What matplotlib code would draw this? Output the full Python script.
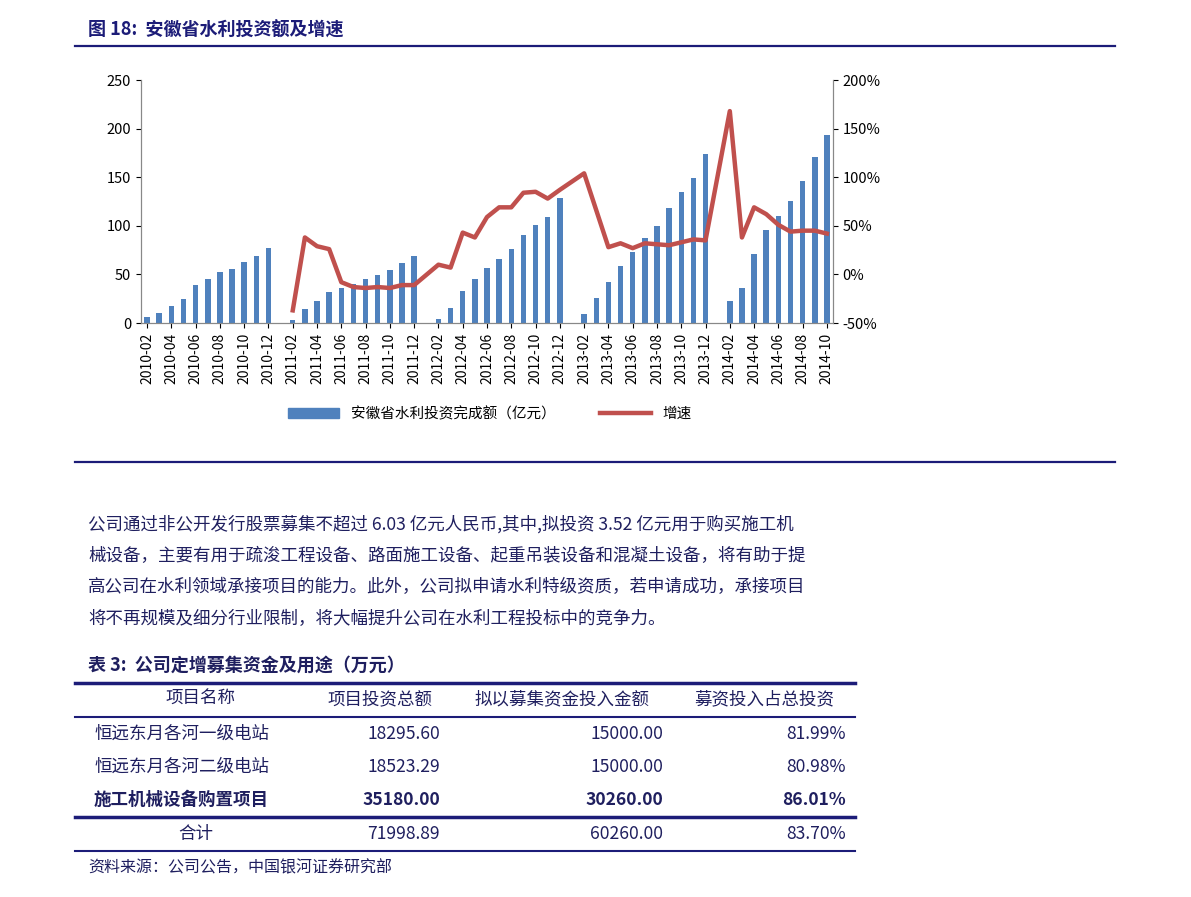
import numpy as np
import matplotlib
matplotlib.use("Agg")
import matplotlib.pyplot as plt
from matplotlib.lines import Line2D

plt.rcParams['font.family'] = ['Noto Sans CJK SC', 'DejaVu Sans']

months = []
for y, ms in [(2010, range(2, 13)), (2011, range(1, 13)), (2012, range(1, 13)),
              (2013, range(1, 13)), (2014, range(1, 11))]:
    for m in ms:
        months.append(f"{y}-{m:02d}")

nan = np.nan
invest = [6, 10, 18, 25, 39, 45, 52, 56, 63, 69, 77,
          nan, 3, 14, 23, 32, 36, 40, 45, 49, 55, 62, 69,
          nan, 4, 15, 33, 45, 57, 66, 76, 91, 101, 109, 129,
          nan, 9, 26, 42, 59, 73, 87, 100, 118, 135, 149, 174,
          nan, 23, 36, 71, 96, 110, 126, 146, 171, 193]
growth = [nan]*11 + [nan, -37, 38, 29, 26, -8, -13, -14, -13, -14, -11, -11,
          nan, 10, 7, 43, 38, 59, 69, 69, 84, 85, 78, 87,
          nan, 104, nan, 28, 32, 27, 32, 31, 30, 33, 36, 35,
          nan, 168, 38, 69, 62, 51, 44, 45, 45, 42]

navy = '#1c1c78'
txt = '#1f1f5f'
fig = plt.figure(figsize=(11.91, 8.97), dpi=100)
W, H = 1191, 897
def fx(x): return x / W
def fy(y): return 1 - y / H

ax = fig.add_axes([fx(141), fy(323), fx(692), 243 / H])
x = np.arange(len(months))
inv = np.array(invest, float)
ax.bar(x, np.nan_to_num(inv), width=0.45, color='#4f81bd', zorder=2)
ax.set_xlim(-0.5, len(months) - 0.5)
ax.set_ylim(0, 250)
ax.set_yticks(range(0, 251, 50))
ax.set_xticks(x[::2])
ax.set_xticklabels(months[::2], rotation=90, fontsize=10)
ax.tick_params(axis='y', labelsize=10.5)
ax2 = ax.twinx()
g = np.array(growth, float)
ok = ~np.isnan(g)
ax2.plot(x[ok], g[ok], color='#c0504d', lw=3.2, zorder=3)
ax2.set_ylim(-50, 200)
ax2.set_yticks(range(-50, 201, 50))
ax2.set_yticklabels([f"{v}%" for v in range(-50, 201, 50)], fontsize=10.5)
for a in (ax, ax2):
    for s in ['top']:
        a.spines[s].set_visible(False)
    a.spines['left'].set_color('#888888')
    a.spines['right'].set_color('#888888')
    a.spines['bottom'].set_color('#888888')
ax2.set_xlim(-0.5, len(months) - 0.5)

handles = [plt.Rectangle((0, 0), 1, 1, color='#4f81bd'),
           Line2D([0], [0], color='#c0504d', lw=3.2)]
fig.legend(handles, ['安徽省水利投资完成额（亿元）', '增速'], loc='center',
           bbox_to_anchor=(fx(490), fy(414)), ncol=2, frameon=False, fontsize=10.5,
           handlelength=3.5, columnspacing=3)

fig.text(fx(88), fy(30), '图 18:  安徽省水利投资额及增速', color=navy, fontsize=13,
         fontweight='bold', va='center')
fig.add_artist(Line2D([fx(75), fx(1115)], [fy(46), fy(46)], color=navy, lw=1.6))
fig.add_artist(Line2D([fx(75), fx(1115)], [fy(462), fy(462)], color=navy, lw=1.6))

para = ['公司通过非公开发行股票募集不超过 6.03 亿元人民币,其中,拟投资 3.52 亿元用于购买施工机',
        '械设备，主要有用于疏浚工程设备、路面施工设备、起重吊装设备和混凝土设备，将有助于提',
        '高公司在水利领域承接项目的能力。此外，公司拟申请水利特级资质，若申请成功，承接项目',
        '将不再规模及细分行业限制，将大幅提升公司在水利工程投标中的竞争力。']
for i, line in enumerate(para):
    fig.text(fx(88), fy(524 + i * 31.7), line, color=txt, fontsize=12.6, va='center')

fig.text(fx(88), fy(665), '表 3:  公司定增募集资金及用途（万元）', color=txt, fontsize=13,
         fontweight='bold', va='center')
for yy, lw in [(683, 2.5), (717, 1.5), (817, 2.5), (851, 1.5)]:
    fig.add_artist(Line2D([fx(75), fx(855)], [fy(yy), fy(yy)], color=navy, lw=lw))

headers = ['项目名称', '项目投资总额', '拟以募集资金投入金额', '募资投入占总投资']
hx = [200, 380, 562, 764]
for h, xx in zip(headers, hx):
    fig.text(fx(xx), fy(699), h, color=txt, fontsize=12.6, ha='center', va='center')
names = ['恒远东月各河一级电站', '恒远东月各河二级电站', '施工机械设备购置项目', '合计']
totals = ['18295.60', '18523.29', '35180.00', '71998.89']
raised = ['15000.00', '15000.00', '30260.00', '60260.00']
ratios = ['81.99%', '80.98%', '86.01%', '83.70%']
rows_y = [734, 767, 800, 834]
for i, yy in enumerate(rows_y):
    wt = 'bold' if i == 2 else 'normal'
    if i == 3:
        fig.text(fx(196), fy(yy), names[i], color=txt, fontsize=12.6, ha='center', va='center')
    else:
        fig.text(fx(94), fy(yy), names[i], color=txt, fontsize=12.6, va='center', fontweight=wt)
    fig.text(fx(440), fy(yy), totals[i], color=txt, fontsize=12.6, ha='right', va='center', fontweight=wt)
    fig.text(fx(663), fy(yy), raised[i], color=txt, fontsize=12.6, ha='right', va='center', fontweight=wt)
    fig.text(fx(846), fy(yy), ratios[i], color=txt, fontsize=12.6, ha='right', va='center', fontweight=wt)

fig.text(fx(88), fy(868), '资料来源：公司公告，中国银河证券研究部', color=txt, fontsize=11.5,
         style='italic', va='center')

fig.savefig('out.png', dpi=100)
